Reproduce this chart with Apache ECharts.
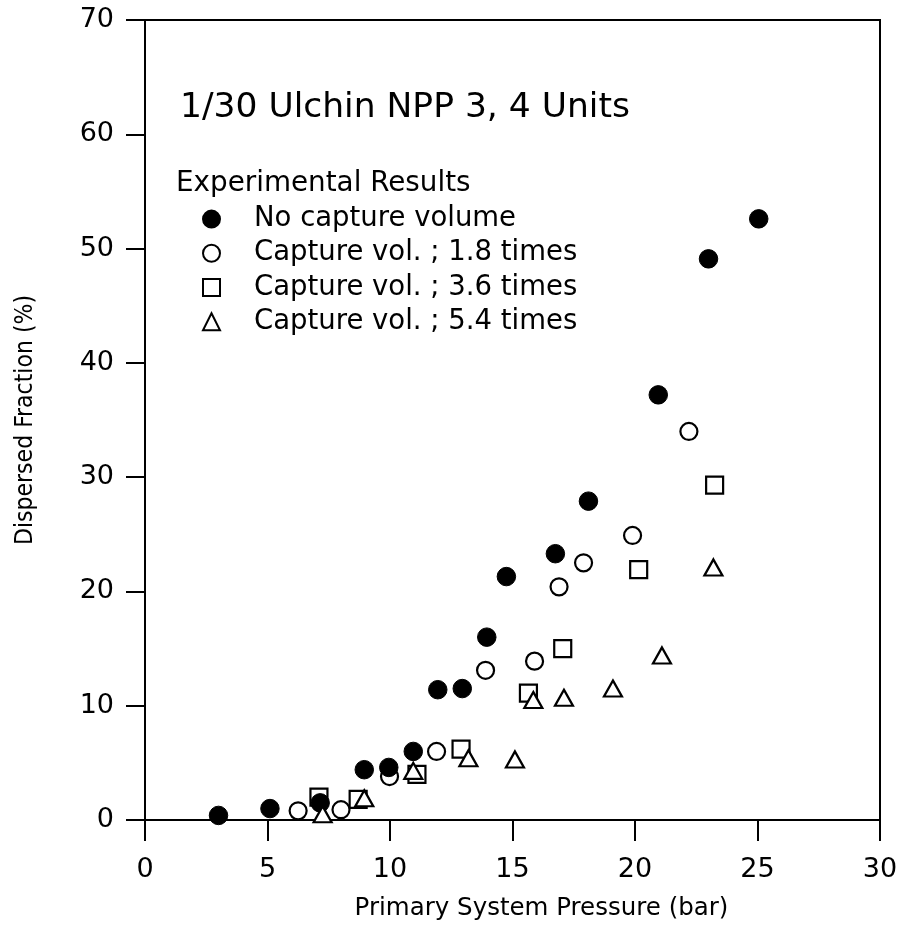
<!DOCTYPE html>
<html>
<head>
<meta charset="utf-8">
<script src="https://cdn.jsdelivr.net/npm/echarts@6/dist/echarts.min.js"></script>
<style>html,body{margin:0;padding:0;background:#fff}#c{width:902px;height:944px}</style>
</head>
<body>
<div id="c"></div>
<script>
// Data
const xTicks = [0, 5, 10, 15, 20, 25, 30];
const yTicks = [0, 10, 20, 30, 40, 50, 60, 70];
const seriesNames = ['No capture volume', 'Capture vol. ; 1.8 times', 'Capture vol. ; 3.6 times', 'Capture vol. ; 5.4 times'];

const noCaptureX = [3.0, 5.1, 7.15, 8.95, 9.95, 10.95, 11.95, 12.95, 13.95, 14.75, 16.75, 18.1, 20.95, 23.0, 25.05];
const noCaptureY = [0.4, 1.0, 1.5, 4.4, 4.6, 6.0, 11.4, 11.5, 16.0, 21.3, 23.3, 27.9, 37.2, 49.1, 52.6];

const cap18X = [6.25, 8.0, 9.98, 11.9, 13.9, 15.9, 16.9, 17.9, 19.9, 22.2];
const cap18Y = [0.8, 0.9, 3.8, 6.0, 13.1, 13.9, 20.4, 22.5, 24.9, 34.0];

const cap36X = [7.1, 8.7, 11.1, 12.9, 15.65, 17.05, 20.15, 23.25];
const cap36Y = [2.0, 1.8, 4.0, 6.2, 11.1, 15.0, 21.9, 29.3];

const cap54X = [7.25, 8.95, 10.95, 13.2, 15.1, 15.85, 17.1, 19.1, 21.1, 23.2];
const cap54Y = [0.5, 1.9, 4.3, 5.4, 5.3, 10.5, 10.7, 11.5, 14.4, 22.1];

function pairs(xs, ys) { return xs.map((x, i) => [x, ys[i]]); }

const FONT = 'DejaVu Sans';
const chart = echarts.init(document.getElementById('c'));
chart.setOption({
  backgroundColor: '#fff',
  animation: false,
  textStyle: { fontFamily: FONT, color: '#000' },
  title: [
    { text: '1/30 Ulchin NPP 3, 4 Units', left: 175, top: 86,
      textStyle: { fontFamily: FONT, fontSize: 34.5, fontWeight: 'normal', color: '#000' } },
    { text: 'Experimental Results', left: 171, top: 165,
      textStyle: { fontFamily: FONT, fontSize: 27.8, fontWeight: 'normal', color: '#000' } }
  ],
  legend: {
    orient: 'vertical',
    left: 197,
    top: 197,
    itemWidth: 17,
    itemHeight: 17,
    itemGap: 0,
    data: seriesNames,
    textStyle: { fontFamily: FONT, fontSize: 27.5, color: '#000', lineHeight: 34.2, padding: [0, 0, 0, 29] }
  },
  grid: {
    left: 145, right: 22, top: 20, bottom: 124,
    show: true, borderColor: '#000', borderWidth: 2, backgroundColor: 'transparent'
  },
  xAxis: {
    type: 'value', min: xTicks[0], max: xTicks[xTicks.length - 1], interval: 5,
    name: 'Primary System Pressure (bar)', nameLocation: 'middle', nameGap: 76,
    nameTextStyle: { fontFamily: FONT, fontSize: 24.5, color: '#000', padding: [0, 0, 0, 58] },
    axisLine: { lineStyle: { color: '#000', width: 2 } },
    axisTick: { inside: false, length: 21, lineStyle: { color: '#000', width: 2 } },
    axisLabel: { margin: 36, fontFamily: FONT, fontSize: 27, color: '#000' },
    splitLine: { show: false }
  },
  yAxis: {
    type: 'value', min: yTicks[0], max: yTicks[yTicks.length - 1], interval: 10,
    name: 'Dispersed Fraction (%)', nameLocation: 'middle', nameGap: 107, nameRotate: 90,
    nameTextStyle: { fontFamily: 'DejaVu Sans Condensed, Liberation Sans', fontSize: 24.5, color: '#000' },
    axisLine: { lineStyle: { color: '#000', width: 2 } },
    axisTick: { inside: false, length: 19, lineStyle: { color: '#000', width: 2 } },
    axisLabel: { margin: 31, fontFamily: FONT, fontSize: 27, color: '#000' },
    splitLine: { show: false }
  },
  series: [
    { name: seriesNames[0], type: 'scatter', symbol: 'circle', symbolSize: 18.5, z: 5,
      itemStyle: { color: '#000', borderColor: '#000', borderWidth: 1, opacity: 1 },
      data: pairs(noCaptureX, noCaptureY) },
    { name: seriesNames[1], type: 'scatter', symbol: 'circle', symbolSize: 17, z: 4,
      itemStyle: { color: '#fff', borderColor: '#000', borderWidth: 2.2, opacity: 1 },
      data: pairs(cap18X, cap18Y) },
    { name: seriesNames[2], type: 'scatter', symbol: 'rect', symbolSize: 17, z: 3,
      itemStyle: { color: '#fff', borderColor: '#000', borderWidth: 2.2, opacity: 1 },
      data: pairs(cap36X, cap36Y) },
    { name: seriesNames[3], type: 'scatter', symbol: 'triangle', symbolSize: [18, 16], z: 6,
      itemStyle: { color: '#fff', borderColor: '#000', borderWidth: 2.2, opacity: 1 },
      data: pairs(cap54X, cap54Y) }
  ]
});
</script>
</body>
</html>
